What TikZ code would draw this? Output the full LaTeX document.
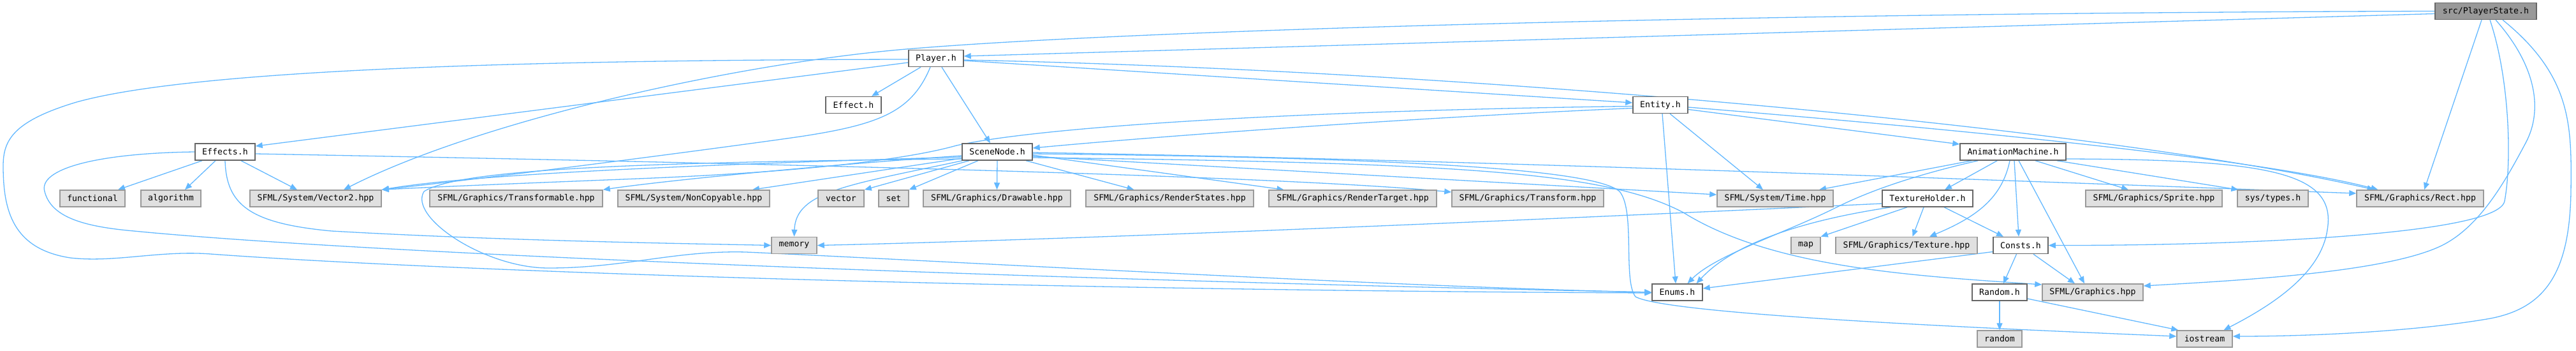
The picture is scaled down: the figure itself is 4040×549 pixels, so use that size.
\documentclass[tikz,border=0pt]{standalone}
\usepackage{fontspec}
\newfontfamily\dmono{DejaVu Sans Mono}
\usetikzlibrary{arrows.meta,calc}
\definecolor{edgec}{HTML}{63B8FF}
\definecolor{g66}{HTML}{666666}
\definecolor{g99}{HTML}{999999}
\definecolor{gE0}{HTML}{E0E0E0}
\pgfdeclarelayer{bg}
\pgfsetlayers{bg,main}
\begin{document}
\begin{tikzpicture}[x=1pt,y=-1pt,
  box/.style={rectangle, inner sep=0pt, minimum height=26pt, line width=1.5pt, text=black, font=\dmono\fontsize{13.2pt}{15pt}\selectfont},
  proj/.style={box, draw=g66, fill=white},
  sys/.style={box, draw=g99, fill=gE0},
  cur/.style={box, draw=g66, fill=g99},
  dep/.style={draw=edgec, line width=1.3pt, -{Triangle[length=11pt,width=9pt]}}]
\useasboundingbox (0,0) rectangle (4040,549);
% row 0-3
\node[cur, minimum width=159pt] (ps) at (3898.5,17.5) {src/PlayerState.h};
\node[proj, minimum width=86pt] (player) at (1468,91.5) {Player.h};
\node[proj, minimum width=87pt] (effect) at (1338.5,164.5) {Effect.h};
\node[proj, minimum width=86pt] (entity) at (2604,164.5) {Entity.h};
\node[proj, minimum width=94pt] (effects) at (353,238) {Effects.h};
\node[proj, minimum width=110pt] (scenenode) at (1564,238) {SceneNode.h};
\node[proj, minimum width=166pt] (anim) at (3157,238) {AnimationMachine.h};
% row 4
\node[sys, minimum width=102pt] (functional) at (145,311) {functional};
\node[sys, minimum width=94pt] (algorithm) at (268,311) {algorithm};
\node[sys, minimum width=206pt] (vector2) at (495,311) {SFML/System/Vector2.hpp};
\node[sys, minimum width=271pt] (transformable) at (809.5,311) {SFML/Graphics/Transformable.hpp};
\node[sys, minimum width=238pt] (noncopyable) at (1088,311) {SFML/System/NonCopyable.hpp};
\node[sys, minimum width=72pt] (nvector) at (1319,311) {vector};
\node[sys, minimum width=47pt] (nset) at (1401.5,311) {set};
\node[sys, minimum width=231pt] (drawable) at (1563.5,311) {SFML/Graphics/Drawable.hpp};
\node[sys, minimum width=263pt] (renderstates) at (1834.5,311) {SFML/Graphics/RenderStates.hpp};
\node[sys, minimum width=263pt] (rendertarget) at (2121.5,311) {SFML/Graphics/RenderTarget.hpp};
\node[sys, minimum width=238pt] (transform) at (2396,311) {SFML/Graphics/Transform.hpp};
\node[sys, minimum width=182pt] (time) at (2784,311) {SFML/System/Time.hpp};
\node[proj, minimum width=142pt] (textureholder) at (3023,311) {TextureHolder.h};
\node[sys, minimum width=214pt] (sprite) at (3378,311) {SFML/Graphics/Sprite.hpp};
\node[sys, minimum width=111pt] (systypes) at (3564.5,311) {sys/types.h};
\node[sys, minimum width=199pt] (rect) at (3795.5,311) {SFML/Graphics/Rect.hpp};
% row 5
\node[sys, minimum width=71pt] (memory) at (1245.5,384.5) {memory};
\node[sys, minimum width=46pt] (nmap) at (2832,384.5) {map};
\node[sys, minimum width=222pt] (texture) at (2990,384.5) {SFML/Graphics/Texture.hpp};
\node[proj, minimum width=86pt] (consts) at (3169,384.5) {Consts.h};
% row 6
\node[proj, minimum width=79pt] (enums) at (2630.5,458) {Enums.h};
\node[proj, minimum width=86pt] (randomh) at (3136,458) {Random.h};
\node[sys, minimum width=158pt] (graphics) at (3282,458) {SFML/Graphics.hpp};
% row 7
\node[sys, minimum width=70pt] (nrandom) at (3136,531) {random};
\node[sys, minimum width=87pt] (iostream) at (3457.5,531) {iostream};

\begin{pgfonlayer}{bg}
% PlayerState
\draw[dep] ($(ps.west)+(0,4)$) -- ($(player.east)+(0,-3.5)$);
\draw[dep] (ps.west) .. controls (2800,20) and (1800,45) .. (1421,77) .. controls (1150,100) and (750,190) .. ($(vector2.north)+(44,0)$);
\draw[dep] ($(ps.south)+(-6.5,0)$) -- ($(rect.north)+(6.5,0)$);
\draw[dep] ($(ps.south)+(6.5,0)$) .. controls (3935,120) and (3940,250) .. (3928,315) .. controls (3918,369) and (3500,385) .. (consts.east);
\draw[dep] ($(ps.south)+(15.5,0)$) .. controls (3975,100) and (3990,170) .. (3961,224) .. controls (3930,282) and (3890,355) .. (3829,385) .. controls (3740,428) and (3500,440) .. ($(graphics.east)+(0,-10)$);
\draw[dep] ($(ps.south)+(26.5,0)$) .. controls (4035,120) and (4033,200) .. (4032,300) .. controls (4030,430) and (3990,485) .. (3900,500) .. controls (3780,520) and (3620,527) .. ($(iostream.east)+(0,-4)$);
% Player
\draw[dep] ($(player.south)+(-24,0)$) -- ($(effect.north)+(28.5,0)$);
\draw[dep] ($(player.south)+(9,0)$) -- ($(scenenode.north)+(-11,0)$);
\draw[dep] ($(player.east)+(0,3.5)$) -- ($(entity.west)+(0,-3.5)$);
\draw[dep] ($(player.west)+(0,6.5)$) -- ($(effects.east)+(0,-9)$);
\draw[dep] ($(player.west)+(0,1.5)$) .. controls (800,94) and (300,110) .. (120,160) .. controls (20,190) and (5,220) .. (5,260) .. controls (5,330) and (20,390) .. (110,404) .. controls (180,412) and (250,392) .. (330,398) .. controls (700,425) and (1600,455) .. ($(enums.west)+(0,1)$);
\draw[dep] ($(player.east)+(0,2.5)$) .. controls (2300,110) and (3300,200) .. ($(rect.north)+(-72,0)$);
\draw[dep] ($(player.south)+(-9,0)$) .. controls (1430,175) and (1380,195) .. (1255,214) .. controls (1130,232) and (800,275) .. (vector2.north east);
% Effects
\draw[dep] ($(effects.south)+(-36,0)$) -- ($(functional.north)+(40,0)$);
\draw[dep] ($(effects.south)+(-15,0)$) -- ($(algorithm.north)+(22,0)$);
\draw[dep] ($(effects.south)+(25,0)$) -- ($(vector2.north)+(-29,0)$);
\draw[dep] (effects.south) .. controls (355,320) and (390,350) .. (520,362) .. controls (800,378) and (1100,382) .. (memory.west);
\draw[dep] (effects.west) .. controls (150,240) and (60,265) .. (70,300) .. controls (80,340) and (130,355) .. (210,362) .. controls (600,400) and (1700,440) .. (enums.west);
\draw[dep] ($(effects.east)+(0,3)$) .. controls (1200,256) and (2000,275) .. ($(transform.west)+(0,-10)$);
% SceneNode
\draw[dep] ($(scenenode.west)+(0,8)$) .. controls (1100,258) and (750,272) .. (vector2.north east);
\draw[dep] ($(scenenode.west)+(0,6)$) .. controls (1300,258) and (1050,282) .. (transformable.north east);
\draw[dep] ($(scenenode.west)+(0,10)$) -- ($(noncopyable.north)+(92,0)$);
\draw[dep] ($(scenenode.south)+(-44,0)$) -- (nvector.north east);
\draw[dep] ($(scenenode.south)+(-30,0)$) -- (nset.north east);
\draw[dep] (scenenode.south) -- (drawable.north);
\draw[dep] ($(scenenode.south)+(45,0)$) -- ($(renderstates.north)+(-56,0)$);
\draw[dep] ($(scenenode.east)+(0,5)$) -- ($(rendertarget.north)+(-108,0)$);
\draw[dep] ($(scenenode.east)+(0,7)$) -- ($(time.west)+(0,-6)$);
\draw[dep] ($(scenenode.east)+(0,1)$) .. controls (2300,250) and (3200,285) .. ($(rect.west)+(0,-8)$);
\draw[dep] ($(scenenode.east)+(0,3)$) .. controls (2200,247) and (2500,265) .. (2540,300) .. controls (2565,330) and (2545,440) .. (2565,465) .. controls (2620,495) and (3200,518) .. ($(iostream.west)+(0,-4)$);
\draw[dep] ($(scenenode.east)+(0,9)$) .. controls (2300,255) and (2520,270) .. (2640,333) .. controls (2780,420) and (3000,432) .. ($(graphics.west)+(0,-12)$);
\draw[dep] ($(scenenode.south west)+(1,0)$) .. controls (1330,290) and (1248,300) .. (memory.north);
\draw[dep] ($(scenenode.west)+(0,11)$) .. controls (1000,254) and (720,265) .. (665,300) .. controls (640,340) and (760,420) .. (860,420) .. controls (980,420) and (1060,392) .. (1170,395) .. controls (1500,410) and (2200,450) .. (enums.west);
% Entity
\draw[dep] ($(entity.west)+(0,5)$) .. controls (2200,185) and (1800,215) .. ($(scenenode.east)+(0,-6)$);
\draw[dep] ($(entity.west)+(0,2)$) .. controls (2100,172) and (1650,195) .. (1500,228) .. controls (1440,245) and (1300,268) .. (1000,280) .. controls (800,288) and (700,292) .. (vector2.north east);
\draw[dep] ($(entity.south)+(15,0)$) -- ($(time.north)+(-19,0)$);
\draw[dep] ($(entity.south)+(3,0)$) -- ($(enums.north)+(-2.5,0)$);
\draw[dep] ($(entity.east)+(0,7)$) -- ($(anim.west)+(0,-12)$);
\draw[dep] ($(entity.east)+(0,3.5)$) .. controls (3100,205) and (3550,250) .. ($(rect.north)+(-66,0)$);
% AnimationMachine
\draw[dep] ($(anim.south west)+(19,0)$) -- ($(time.north)+(69,0)$);
\draw[dep] ($(anim.south west)+(29,0)$) .. controls (3000,275) and (2930,300) .. (2880,325) .. controls (2800,365) and (2690,400) .. ($(enums.north)+(16,0)$);
\draw[dep] ($(anim.south west)+(59,0)$) -- ($(textureholder.north)+(27,0)$);
\draw[dep] ($(anim.south)+(-5,0)$) .. controls (3140,310) and (3100,340) .. ($(texture.north)+(36,0)$);
\draw[dep] ($(anim.south)+(2,0)$) -- ($(consts.north)+(-3,0)$);
\draw[dep] ($(anim.south)+(9,0)$) -- ($(graphics.north)+(-13,0)$);
\draw[dep] ($(anim.south)+(35,0)$) -- ($(sprite.north)+(-40,0)$);
\draw[dep] ($(anim.south east)+(-15,0)$) -- ($(systypes.north west)+(2,0)$);
\draw[dep] ($(anim.east)+(0,11)$) .. controls (3560,250) and (3665,270) .. (3650,360) .. controls (3640,430) and (3560,480) .. ($(iostream.north)+(30,0)$);
% TextureHolder
\draw[dep] ($(textureholder.south)+(-32,0)$) -- (nmap.north east);
\draw[dep] ($(textureholder.south)+(-6,0)$) -- ($(texture.north)+(9.5,0)$);
\draw[dep] ($(textureholder.south)+(26,0)$) -- ($(consts.north)+(-27,0)$);
\draw[dep] ($(textureholder.west)+(0,8)$) .. controls (2400,345) and (1700,375) .. (memory.east);
\draw[dep] ($(textureholder.south west)+(14,0)$) .. controls (2830,345) and (2720,380) .. ($(enums.north)+(30,0)$);
% Consts
\draw[dep] ($(consts.west)+(0,10)$) -- ($(enums.east)+(0,-6)$);
\draw[dep] ($(consts.south)+(-6.5,0)$) -- ($(randomh.north)+(6,0)$);
\draw[dep] ($(consts.south)+(20,0)$) -- ($(graphics.north)+(-28,0)$);
% Random
\draw[dep] (randomh.south) -- (nrandom.north);
\draw[dep] ($(randomh.east)+(0,10)$) -- ($(iostream.north west)+(3,0)$);
\end{pgfonlayer}
\end{tikzpicture}
\end{document}
